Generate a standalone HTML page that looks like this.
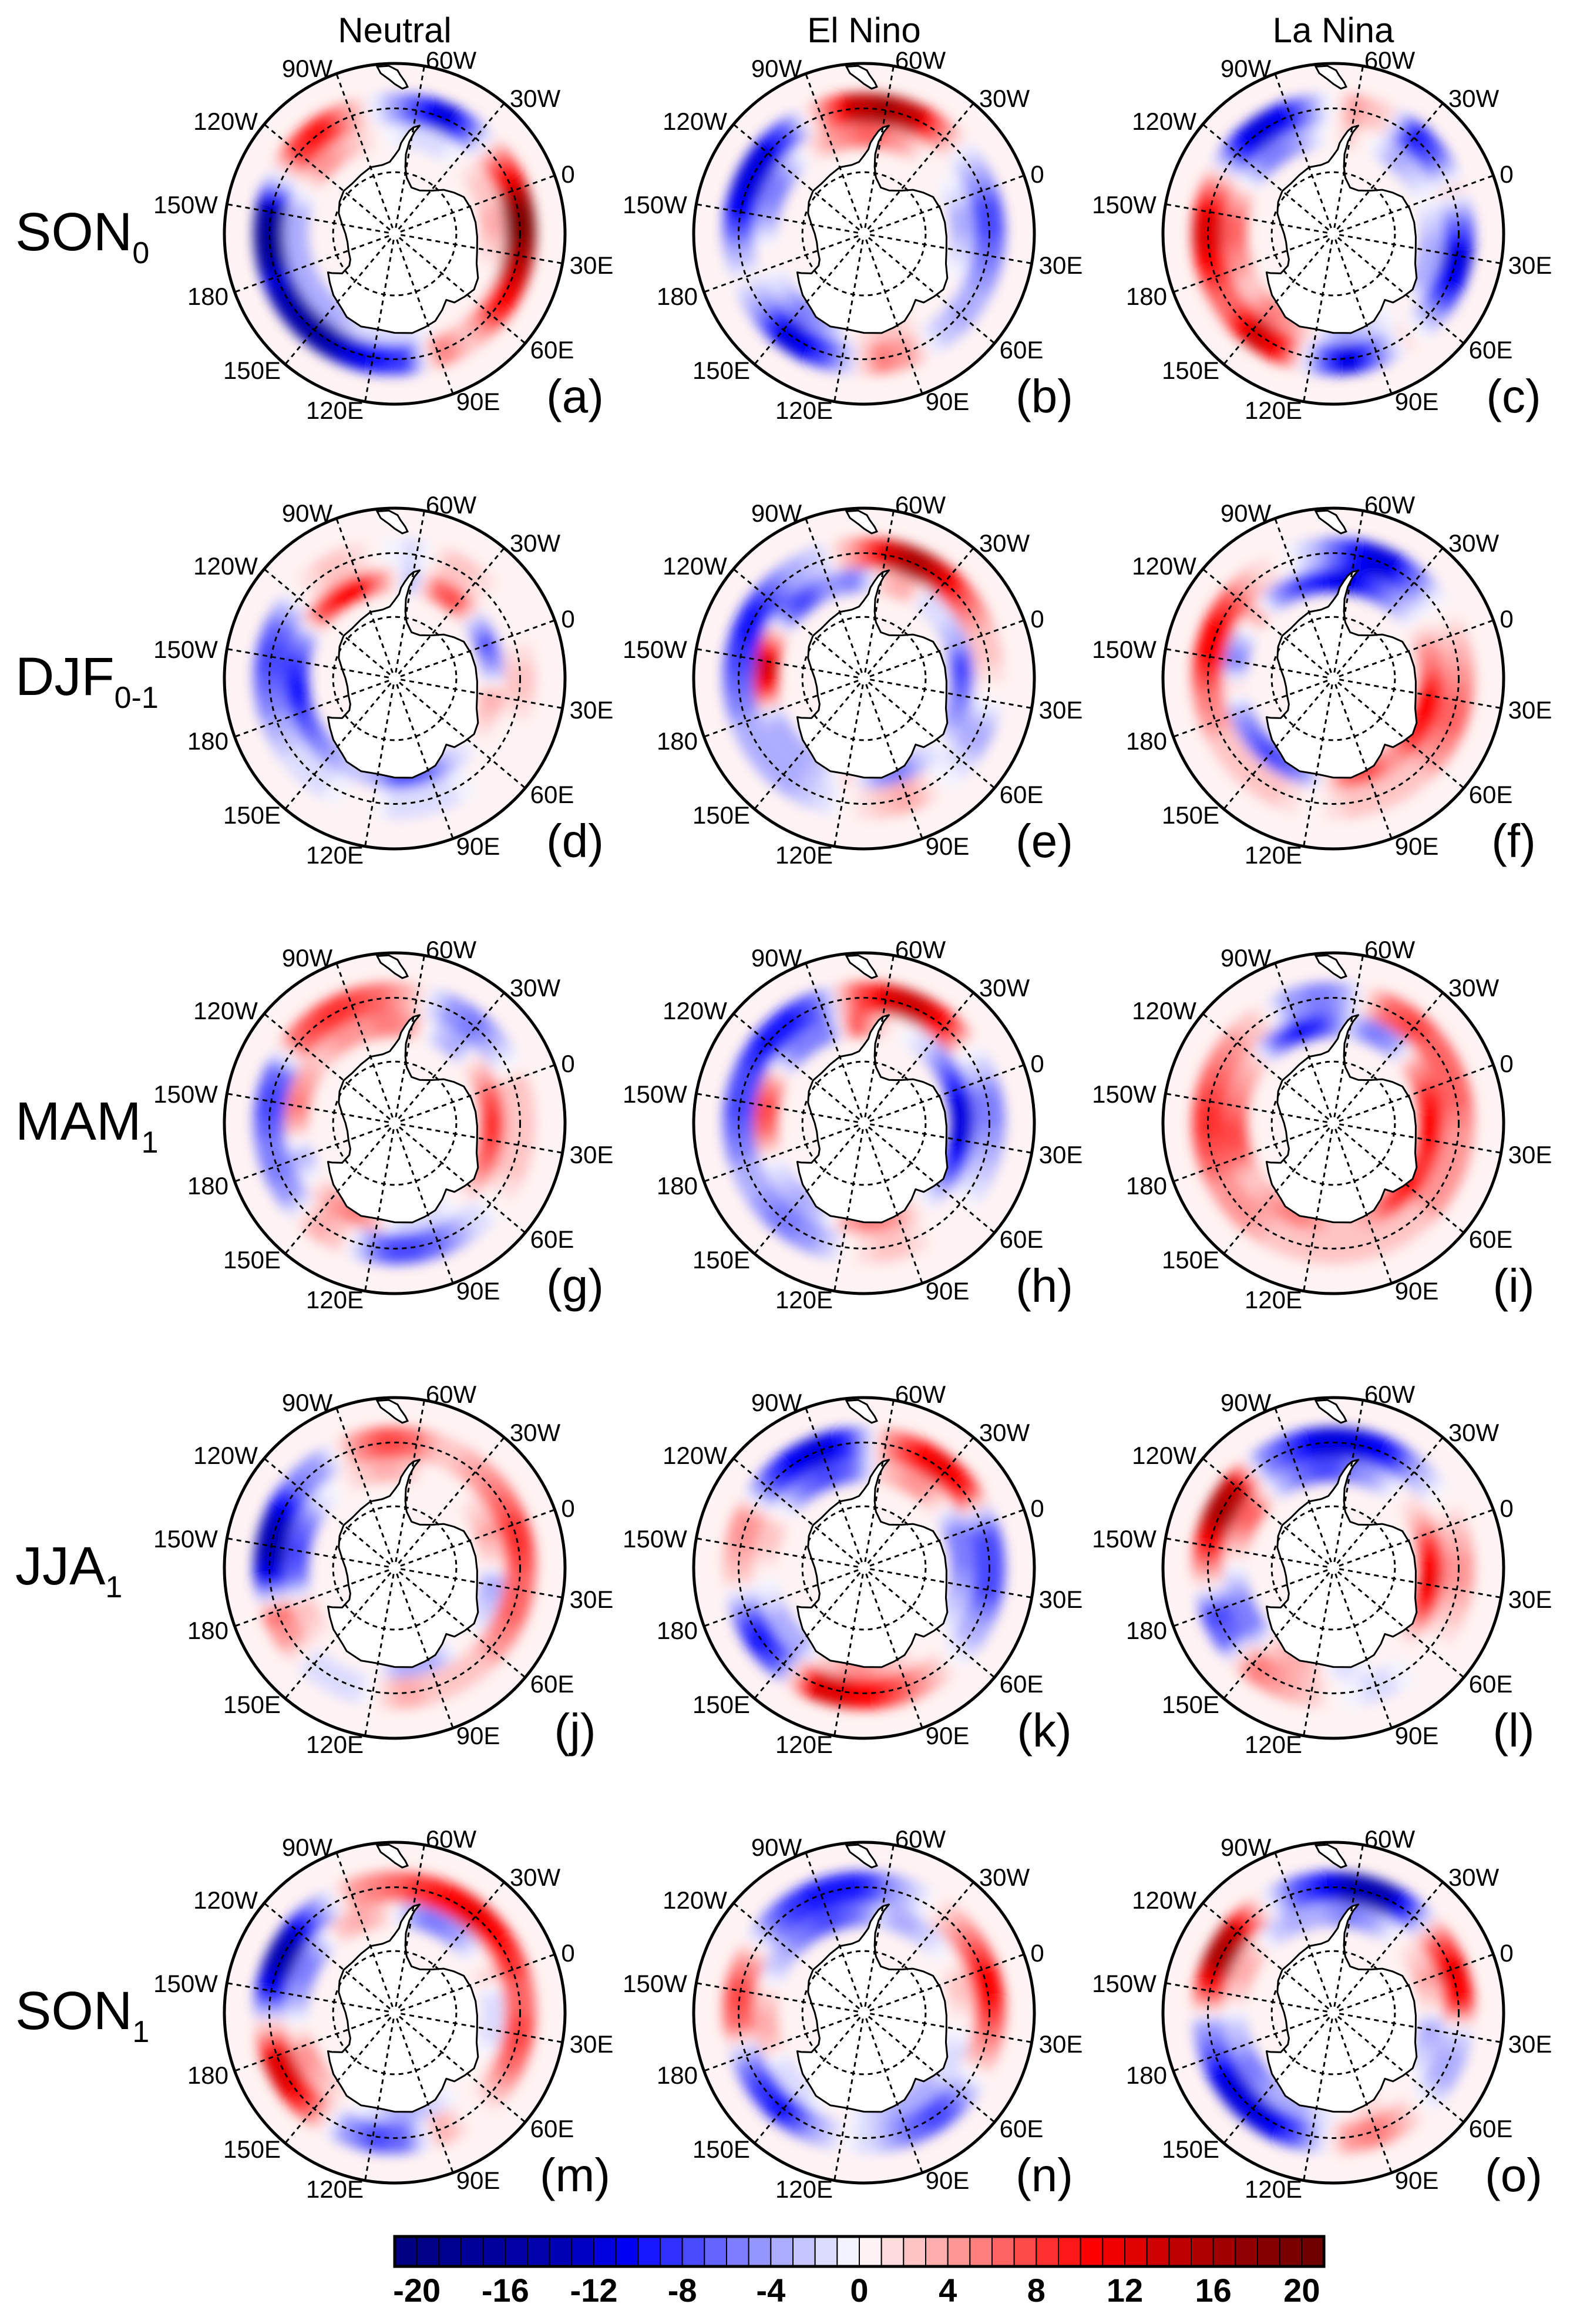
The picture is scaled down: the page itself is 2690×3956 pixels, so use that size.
<!DOCTYPE html>
<html><head><meta charset="utf-8">
<style>
html,body{margin:0;padding:0;background:#fff;}
body{width:2690px;height:3951px;overflow:hidden;}
svg text{font-family:"Liberation Sans",sans-serif;}
</style></head>
<body>
<svg id="fig" width="2690" height="3951" viewBox="0 0 2690 3951" xmlns="http://www.w3.org/2000/svg">
<defs>
<filter id="blur" x="-20%" y="-20%" width="140%" height="140%"><feGaussianBlur stdDeviation="10"/></filter>
</defs>
</svg>
<script>
// ---------- data ----------
const lons = [0,15,30,45,60,75,90,105,120,135,150,165,180,195,210,225,240,255,270,285,300,315,330,345];
const colTitles = ["Neutral","El Nino","La Nina"];
const rowSeasons = [["SON","0"],["DJF","0-1"],["MAM","1"],["JJA","1"],["SON","1"]];
const panelLetters = ["a","b","c","d","e","f","g","h","i","j","k","l","m","n","o"];
const cbTicks = [-20,-16,-12,-8,-4,0,4,8,12,16,20];
const lonLabels = ["0","30E","60E","90E","120E","150E","180","150W","120W","90W","60W","30W"];

const outerA = [14,20,16,12,8,2,6,-8,-10,-12,-16,-14,-12,-18,-16,-2,8,10,4,-2,-8,-12,-4,6];
const innerA = [2,4,2,0,0,0,0,-2,-2,-2,-4,-4,-4,-4,-4,0,4,4,2,0,-2,-2,0,2];
const outerB = [-6,-8,-6,-4,-4,-2,4,6,-4,-10,-12,-4,0,-4,-10,-12,-12,-6,4,14,16,14,4,-2];
const innerB = [-2,-4,-2,0,0,0,2,2,0,-4,-6,-2,0,0,-4,-6,-4,0,4,6,6,4,0,0];
const outerC = [2,-6,-12,-10,-4,2,-6,-12,-4,10,14,6,8,12,12,4,-8,-12,-10,-2,4,2,-10,-6];
const innerC = [0,-2,-4,-4,0,0,-2,-4,0,4,6,2,4,6,6,2,-4,-6,-4,0,2,0,-4,-2];
const outerD = [0,2,2,0,0,0,-2,-2,0,0,-2,-2,-4,-6,-8,-6,0,2,2,0,-2,2,2,0];
const innerD = [-8,-4,4,2,0,-2,-6,-8,-4,-2,-4,-6,-8,-10,-8,-4,6,10,10,4,-4,6,8,-2];
const outerE = [2,2,0,-4,-2,0,4,2,0,-2,-4,-4,-4,-6,-8,-10,-8,-4,-2,4,12,16,12,6];
const innerE = [-4,-8,-6,-4,0,-2,-6,-4,2,-2,-4,-4,-2,10,14,4,-6,-8,-4,-6,2,4,-2,-2];
const outerF = [2,4,6,6,4,2,2,2,0,2,2,2,4,6,10,10,6,2,0,-4,-10,-12,-6,0];
const innerF = [4,6,10,10,8,4,8,6,-2,-6,-8,-6,-4,2,-6,-2,4,-4,-8,-10,-12,-8,-4,0];
const outerG = [2,2,2,2,0,-2,-6,-8,-6,2,4,-4,-6,-6,-8,-6,6,8,8,6,2,-4,-6,-2];
const innerG = [6,8,8,6,2,0,-2,-2,2,6,4,0,-4,2,6,4,2,4,4,6,4,-2,-4,2];
const outerH = [-4,-6,-4,-2,0,0,2,2,0,-4,-6,-4,-4,-6,-8,-8,-10,-10,-6,6,12,14,10,0];
const innerH = [-10,-12,-12,-8,-4,0,4,6,4,-2,-4,-2,0,6,8,4,-4,-6,-6,8,2,0,-2,-6];
const outerI = [6,6,4,4,4,2,2,2,2,2,4,4,6,8,8,6,4,2,-4,-6,-2,6,8,6];
const innerI = [8,10,10,8,10,8,4,2,4,6,4,2,6,8,6,4,2,-6,-10,-8,-2,-6,-4,4];
const outerJ = [8,8,6,6,4,2,2,4,0,-2,-2,4,6,-10,-14,-12,-6,-4,4,8,6,2,4,6];
const innerJ = [4,2,-4,-2,0,0,-4,-4,0,0,0,2,2,-6,-8,-6,-2,0,2,4,2,0,0,2];
const outerK = [-6,-8,-8,-4,-2,2,6,10,12,12,-6,-10,-6,2,4,4,-6,-10,-12,-8,4,10,12,8];
const innerK = [-6,-6,-4,-2,0,0,2,4,4,2,-4,-4,-2,0,2,2,-2,-6,-8,-6,2,4,4,0];
const outerL = [2,4,4,2,0,0,-2,0,2,4,6,-6,-8,2,10,16,14,-4,-8,-12,-12,-10,-4,0];
const innerL = [6,10,12,8,2,0,0,-2,2,4,2,-6,-6,-2,2,6,6,-2,-6,-8,-6,-4,0,2];
const outerM = [8,6,8,6,2,0,4,-6,-8,-4,6,12,12,2,-10,-14,-12,-4,4,6,8,10,12,10];
const innerM = [2,-2,-2,0,0,0,-2,-4,-2,0,2,4,4,0,-4,-6,-4,2,4,2,-4,-6,-4,0];
const outerN = [10,10,6,2,-4,-8,-6,-2,0,-4,-10,-8,-4,6,8,4,-4,-8,-10,-10,-6,-2,2,6];
const innerN = [2,2,0,-2,-2,-4,-4,-2,0,0,-2,-2,2,4,2,-2,-4,-6,-8,-6,-2,-4,-2,0];
const outerO = [12,10,-2,-4,-2,2,6,4,-4,-10,-12,-12,-8,-4,8,16,14,2,-6,-10,-14,-14,-6,6];
const innerO = [4,2,-4,-2,0,0,2,0,-2,-4,-4,-6,-4,-2,2,4,2,-2,-4,-4,-6,-4,0,2];

const outerSeries = [outerA,outerB,outerC,outerD,outerE,outerF,outerG,outerH,outerI,outerJ,outerK,outerL,outerM,outerN,outerO];
const innerSeries = [innerA,innerB,innerC,innerD,innerE,innerF,innerG,innerH,innerI,innerJ,innerK,innerL,innerM,innerN,innerO];

const cmap = ["#000080","#000088","#00008f","#000096","#00009d","#0000a5","#0000ac","#0000b4","#0000c4","#0000e0","#0000f5","#1818ff","#3030ff","#4a4aff","#6464ff","#7e7eff","#9595ff","#adadff","#c5c5ff","#dcdcff","#f3f3ff",
"#fff3f3","#ffdcdc","#ffc5c5","#ffadad","#ff9595","#ff7e7e","#ff6464","#ff4a4a","#ff3030","#ff1818","#ff0000","#f00000","#e00000","#cf0000","#bf0000","#af0000","#a00000","#900000","#850000","#7a0000","#700000"];

const coast = [[-57,-63.3],[-60,-64],[-62,-65],[-64,-66.5],[-66,-68],[-67,-69.5],[-70,-71],[-74,-72.5],[-80,-73],[-90,-72.8],[-100,-73.5],[-110,-74],[-120,-73.8],[-130,-74.5],[-140,-75.5],[-150,-77],[-160,-78],[-170,-78.3],[180,-78],[170,-77.5],[165,-76.5],[163,-74],[168,-72],[170,-71.3],[163,-70.3],[155,-69],[145,-67.8],[140,-66.8],[130,-66.2],[120,-66.6],[110,-66.1],[100,-65.7],[92,-66.3],[85,-66.8],[78,-68.3],[72,-69.7],[69,-68],[62,-67.3],[55,-66.6],[48,-67.2],[40,-68.9],[32,-69.6],[22,-70],[12,-70.2],[2,-70.5],[-8,-71],[-15,-72.5],[-22,-74],[-30,-76.3],[-40,-77.8],[-50,-78],[-58,-76],[-61,-73.5],[-62,-70.5],[-61,-67.5],[-59,-65]];
const samerica = [[-75,-52],[-72,-53.5],[-70,-54.5],[-67,-55.5],[-65,-55],[-66,-54],[-68,-52.5],[-69,-51.5],[-72,-50.5],[-76,-50.5]];

// ---------- geometry ----------
const R = 290, T50 = Math.tan(20*Math.PI/180);
const colX = [672,1471,2270], rowY0 = 398, rowDY = 757;
function rad(lat){return R*Math.tan((90+lat)/2*Math.PI/180)/T50;}
function xy(cx,cy,lon,lat){const b=(70+lon)*Math.PI/180, r=rad(lat);return [cx+r*Math.sin(b), cy-r*Math.cos(b)];}
function colorOf(v){let i=Math.floor(v)+21; if(i<0)i=0; if(i>41)i=41; return cmap[i];}
function valueAt(arr,lon){ // smooth rendering between data longitudes
  const step=15, f=((lon%360)+360)%360/step, i=Math.floor(f), t=f-i;
  return arr[i%24]*(1-t)+arr[(i+1)%24]*t;
}
const NS="http://www.w3.org/2000/svg";
const fig=document.getElementById('fig');
function mk(tag,attrs,parent){const e=document.createElementNS(NS,tag);for(const k in attrs)e.setAttribute(k,attrs[k]);(parent||fig).appendChild(e);return e;}
function sector(cx,cy,lon,latIn,latOut,half){
  const a=xy(cx,cy,lon-half,latOut),b=xy(cx,cy,lon+half,latOut),c=xy(cx,cy,lon+half,latIn),d=xy(cx,cy,lon-half,latIn);
  const ro=rad(latOut), ri=rad(latIn);
  return `M${a[0]},${a[1]} A${ro},${ro} 0 0 1 ${b[0]},${b[1]} L${c[0]},${c[1]} A${ri},${ri} 0 0 0 ${d[0]},${d[1]} Z`;
}
const labelOff = {"0":[295,-102],"30E":[335,53],"60E":[268,197],"90E":[142,285],"120E":[-102,300],"150E":[-243,232],"180":[-318,106],"150W":[-356,-50],"120W":[-288,-192],"90W":[-149,-282],"60W":[96,-296],"30W":[239,-231]};

colTitles.forEach((t,i)=>{
  const e=mk('text',{x:colX[i],y:72,'font-size':60,'text-anchor':'middle',fill:'#000'});
  e.textContent=t;
  
  
});
rowSeasons.forEach((s,j)=>{
  const y=rowY0+rowDY*j+28;
  const e=mk('text',{x:26,y:y,'font-size':92,fill:'#000'});
  
  
  e.appendChild(document.createTextNode(s[0]));
  const sub=mk('tspan',{'font-size':52,dy:22},e); sub.textContent=s[1];
});

for(let p=0;p<15;p++){
  const ci=p%3, rj=Math.floor(p/3);
  const cx=colX[ci], cy=rowY0+rowDY*rj;
  const g=mk('g',{});
  
  
  const cid='clip'+p;
  const cp=mk('clipPath',{id:cid},g); mk('circle',{cx:cx,cy:cy,r:R},cp);
  const inner=mk('g',{'clip-path':`url(#${cid})`},g);
  mk('circle',{cx:cx,cy:cy,r:R,fill:'#fff3f3'},inner);
  const field=mk('g',{filter:'url(#blur)'},inner);
  
  
  const outer=outerSeries[p], inn=innerSeries[p];
  for(let lon=0;lon<360;lon+=4){
    const s1=mk('path',{d:sector(cx,cy,lon,-63.5,-56.5,2.6),fill:colorOf(valueAt(outer,lon))},field);
    
    
    const s2=mk('path',{d:sector(cx,cy,lon,-69,-63.5,2.6),fill:colorOf(valueAt(inn,lon))},field);
    
    
  }
  const pts=coast.map(c=>xy(cx,cy,c[0],c[1]).join(',')).join(' ');
  const ant=mk('polygon',{points:pts,fill:'#fff',stroke:'#000','stroke-width':3,'stroke-linejoin':'round'},inner);
  
  
  const sa=mk('polygon',{points:samerica.map(c=>xy(cx,cy,c[0],c[1]).join(',')).join(' '),fill:'#fff',stroke:'#000','stroke-width':3},inner);
  
  
  [-60,-75].forEach(lat=>{
    const c=mk('circle',{cx:cx,cy:cy,r:rad(lat),fill:'none',stroke:'#000','stroke-width':3,'stroke-dasharray':'8 7'},inner);
    
    
  });
  for(let m=0;m<12;m++){
    const lon=m*30; const e=xy(cx,cy,lon,-49); const s=xy(cx,cy,lon,-88.5);
    const l=mk('line',{x1:s[0],y1:s[1],x2:e[0],y2:e[1],stroke:'#000','stroke-width':3,'stroke-dasharray':'8 7'},inner);
    
    
  }
  const oc=mk('circle',{cx:cx,cy:cy,r:R,fill:'none',stroke:'#000','stroke-width':5},g);
  
  
  lonLabels.forEach(t=>{
    const o=labelOff[t];
    const e=mk('text',{x:cx+o[0],y:cy+o[1]+15,'font-size':42,'text-anchor':'middle',fill:'#000'},g);
    e.textContent=t;
    
    
  });
  const pl=mk('text',{x:cx+307,y:cy+304,'font-size':80,'text-anchor':'middle',fill:'#000'},g);
  pl.textContent='('+panelLetters[p]+')';
  
  
}

const cbX0=672, cbX1=2254, cbY=3807, cbH=51;
const cb=mk('g',{});


const bw=(cbX1-cbX0)/cmap.length;
cmap.forEach((c,i)=>{
  const r=mk('rect',{x:cbX0+i*bw,y:cbY,width:bw,height:cbH,fill:c,stroke:'#000','stroke-width':2},cb);
  
  
});
mk('rect',{x:cbX0,y:cbY,width:cbX1-cbX0,height:cbH,fill:'none',stroke:'#000','stroke-width':5},cb);
cbTicks.forEach(v=>{
  const x=cbX0+(v+21)*bw;
  const t=mk('text',{x:x,y:3918,'font-size':56,'font-weight':'bold','text-anchor':'middle',fill:'#000'},cb);
  t.textContent=String(v);
  
  
});
</script>
</body></html>
